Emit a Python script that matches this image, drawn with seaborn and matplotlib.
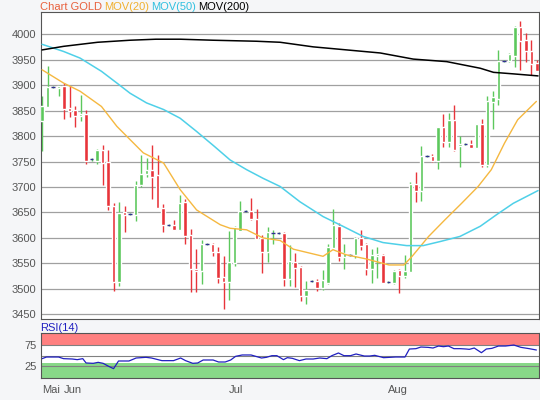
import numpy as np
import matplotlib
matplotlib.use("Agg")
import matplotlib.pyplot as plt
import seaborn as sns

# daily candles
opens = [3829, 3857, 3896, 3895, 3899, 3855, 3852, 3840, 3844, 3754,
         3751, 3773, 3749, 3663, 3513, 3650, 3647, 3646, 3703, 3725,
         3734, 3723, 3659, 3625, 3626, 3615, 3670, 3606, 3540, 3536,
         3588, 3588, 3572, 3523, 3514, 3551, 3614, 3653, 3653, 3638,
         3600, 3572, 3610, 3610, 3610, 3519, 3552, 3544, 3487, 3515,
         3516, 3501, 3511, 3580, 3624, 3562, 3567, 3567, 3600, 3588,
         3539, 3565, 3567, 3513, 3511, 3538, 3526, 3534, 3706, 3693,
         3760, 3760, 3751, 3817, 3789, 3832, 3781, 3785, 3785, 3776,
         3824, 3744, 3866, 3873, 3948, 3948, 3958, 4013, 3989, 3967, 3943]
closes = [3859, 3897, 3896, 3899, 3854, 3850, 3840, 3844, 3751, 3754,
          3773, 3748, 3662, 3513, 3649, 3646, 3647, 3703, 3726, 3734,
          3719, 3659, 3625, 3625, 3615, 3668, 3604, 3539, 3536, 3588,
          3588, 3572, 3521, 3514, 3552, 3621, 3653, 3653, 3637, 3598,
          3572, 3611, 3610, 3610, 3519, 3554, 3541, 3487, 3498, 3515,
          3501, 3518, 3583, 3626, 3562, 3570, 3567, 3600, 3585, 3539,
          3567, 3569, 3511, 3513, 3536, 3526, 3536, 3706, 3693, 3760,
          3760, 3751, 3817, 3789, 3832, 3772, 3785, 3785, 3776, 3823,
          3744, 3868, 3876, 3948, 3948, 3961, 4013, 3987, 3966, 3941, 3928]
highs = [3878, 3937, 3898, 3900, 3904, 3899, 3859, 3881, 3852, 3756,
         3774, 3782, 3773, 3668, 3670, 3663, 3649, 3711, 3763, 3757,
         3783, 3763, 3667, 3627, 3636, 3685, 3676, 3617, 3578, 3596,
         3590, 3590, 3582, 3564, 3614, 3623, 3672, 3655, 3678, 3657,
         3606, 3621, 3616, 3612, 3611, 3587, 3570, 3545, 3515, 3517,
         3519, 3538, 3589, 3656, 3629, 3589, 3569, 3602, 3615, 3590,
         3578, 3583, 3568, 3515, 3538, 3539, 3567, 3709, 3729, 3780,
         3762, 3765, 3817, 3844, 3845, 3861, 3800, 3787, 3793, 3823,
         3833, 3879, 3889, 3968, 3950, 3963, 4015, 4025, 4003, 3989, 3950]
lows = [3770, 3857, 3894, 3879, 3833, 3838, 3817, 3829, 3746, 3752,
        3746, 3704, 3654, 3495, 3505, 3611, 3645, 3634, 3700, 3719,
        3676, 3659, 3612, 3623, 3615, 3615, 3588, 3493, 3493, 3510,
        3586, 3564, 3511, 3460, 3479, 3545, 3614, 3651, 3636, 3597,
        3532, 3552, 3588, 3608, 3505, 3505, 3504, 3476, 3471, 3513,
        3495, 3498, 3510, 3580, 3555, 3539, 3565, 3560, 3577, 3528,
        3511, 3521, 3511, 3511, 3510, 3492, 3521, 3534, 3670, 3673,
        3758, 3750, 3735, 3779, 3779, 3770, 3739, 3783, 3776, 3776,
        3740, 3740, 3814, 3860, 3946, 3946, 3935, 3930, 3946, 3920, 3927]

# moving averages sampled along the chart (day index, value)
ma20_idx = [0, 3.9, 6.9, 10.8, 13.6, 16, 18.4, 22.1, 25.1, 28.1, 32.4, 34.2, 37.2, 40.2, 43.3,
            45.7, 51.1, 52.9, 55.3, 58.9, 63.1, 65.8, 67.3, 70.3, 73.3, 76.3, 79.3, 81.7, 84.1, 86.5, 89.9]
ma20_val = [3930, 3904, 3888, 3858, 3819, 3793, 3767, 3747, 3695, 3655, 3626, 3619, 3616, 3600, 3595,
            3578, 3564, 3577, 3567, 3559, 3547, 3547, 3564, 3603, 3636, 3668, 3701, 3734, 3786, 3832, 3868]
ma50_idx = [0, 3.9, 6.9, 10.8, 13.6, 16, 19, 22.1, 25.1, 28.1, 31.3, 34.2, 37.2, 40.2, 43.3,
            46.9, 51.1, 54.7, 58.4, 62, 66.3, 69.3, 72.4, 76, 79.7, 82.7, 85.7, 90.2]
ma50_val = [3980, 3966, 3953, 3927, 3904, 3884, 3865, 3852, 3835, 3809, 3780, 3753, 3734, 3717, 3701,
            3671, 3642, 3623, 3603, 3591, 3585, 3585, 3593, 3603, 3623, 3646, 3668, 3693]
ma200_idx = [0, 3.9, 10.1, 16, 20.7, 25.1, 31.1, 39, 43.3, 49.3, 55.4, 61.5, 67.5, 73.6, 79.7, 82.1, 85.7, 90.2]
ma200_val = [3969, 3976, 3984, 3988, 3990, 3990, 3988, 3986, 3984, 3975, 3969, 3963, 3951, 3946, 3933,
             3925, 3922, 3918]

rsi_idx = [0, 0.8, 3, 3.9, 5.5, 6.4, 7.4, 8, 9.3, 10.2, 11.1, 12.1, 13, 13.9, 15.8, 17.1, 18.9, 19.9,
           21.8, 23.9, 25.2, 26.1, 27.4, 28.3, 29.3, 31.1, 32.1, 33.3, 34.3, 35.2, 36.4, 38, 39.9, 40.8,
           41.8, 42.7, 43.9, 44.6, 45.5, 46.8, 48, 49.3, 50.5, 51.8, 52.7, 53.9, 54.9, 56.1, 57.1, 58.6,
           59.6, 60.5, 62.1, 63.3, 64.3, 66, 66.8, 68, 68.9, 70.2, 71.1, 72.1, 73, 73.9, 74.9, 76.1,
           77.1, 77.7, 78.6, 79.9, 80.8, 81.8, 83, 84.3, 85.8, 87.1, 88.6, 89.9]
rsi_val = [42.7, 46.5, 46.5, 42.7, 41.9, 40.4, 42.7, 32.7, 31.9, 34.2, 31.9, 25, 19.6, 37.3, 37.3, 44.2,
           45.8, 44.2, 38.1, 38.1, 44.2, 38.1, 31.9, 32.7, 39.6, 39.6, 35, 35, 39.6, 48.1, 51.2, 51.2,
           44.2, 45.8, 49.6, 49.6, 40.4, 45, 43.5, 38.1, 41.9, 41.9, 44.2, 42.7, 49.6, 55.8, 49.6, 49.6,
           53.5, 48.8, 48.8, 50.4, 45, 45.8, 46.5, 46.5, 65, 65.8, 69.6, 68.8, 67.3, 71.9, 70.4, 71.9,
           65.8, 65.8, 65, 64.2, 67.3, 56.5, 65, 66.5, 71.9, 71.9, 74.2, 68.8, 65.8, 62.7]

month_pos = [0, 4, 34, 63]
month_labels = ["Mai", "Jun", "Jul", "Aug"]

sns.set_style("white")
plt.rcParams['font.family'] = ['Liberation Sans', 'DejaVu Sans']

fig = plt.figure(figsize=(5.4, 4), dpi=100, facecolor="#f5f6f8")
ax = fig.add_axes([0.0754, 0.2025, 0.923, 0.767])
rax = fig.add_axes([0.0754, 0.055, 0.923, 0.1125])

GREEN = "#5cc85c"
RED = "#e8343a"
x = np.arange(len(opens))
o = np.array(opens)
c = np.array(closes)

for yv in range(3450, 4050, 50):
    ax.axhline(yv, color="#a0a0a0", lw=0.9, zorder=0)

ax.vlines(x, lows, highs, color=[GREEN if cc >= oo else RED for oo, cc in zip(o, c)], lw=1, zorder=2)
body = np.abs(c - o)
flat = body < 1
cols = [GREEN if cc > oo else RED for oo, cc in zip(o, c)]
ax.bar(x[~flat], body[~flat], bottom=np.minimum(o, c)[~flat], width=0.6,
       color=np.array(cols)[~flat], zorder=3)
ax.hlines(c[flat], x[flat] - 0.35, x[flat] + 0.35, color="#303090", lw=1, zorder=3)

sns.lineplot(x=ma20_idx, y=ma20_val, ax=ax, color="#f5b840", lw=1, sort=False, zorder=4)
sns.lineplot(x=ma50_idx, y=ma50_val, ax=ax, color="#4fd0e8", lw=1.1, sort=False, zorder=4)
sns.lineplot(x=ma200_idx, y=ma200_val, ax=ax, color="black", lw=1.1, sort=False, zorder=4)

ax.set_xlim(-0.25, 90.4)
ax.set_ylim(3441, 4043)
ax.set_yticks(range(3450, 4050, 50))
ax.tick_params(axis="y", labelsize=8, labelcolor="#555555", length=0, pad=3)
ax.set_xticks([])
for s in ax.spines.values():
    s.set_color("#555555")
    s.set_linewidth(0.8)

# title line, each piece placed after the previous one
renderer = fig.canvas.get_renderer()
xpos = 0.074
for txt, col in [("Chart GOLD", "#e8603c"), ("MOV(20)", "#f0b030"),
                 ("MOV(50)", "#30c0e0"), ("MOV(200)", "black")]:
    t = fig.text(xpos, 0.995, txt, color=col, fontsize=8, va="top")
    bb = t.get_window_extent(renderer)
    xpos = (bb.x1 + 2) / fig.bbox.width

# RSI panel
rax.axhspan(75, 102, color="#ff8080", lw=0)
rax.axhspan(-2, 32, color="#88d888", lw=0)
for yv in (25, 50, 75):
    rax.axhline(yv, color="#808080", lw=0.8)
sns.lineplot(x=rsi_idx, y=rsi_val, ax=rax, color="#2020c0", lw=0.9, sort=False)
rax.set_xlim(-0.25, 90.4)
rax.set_ylim(-2, 102)
rax.set_yticks([25, 75])
rax.tick_params(axis="y", labelsize=8, labelcolor="#555555", length=0, pad=3)
rax.set_xticks(month_pos)
rax.set_xticklabels(month_labels, ha="left")
rax.tick_params(axis="x", labelsize=8, labelcolor="#555555", length=4, color="#555555", pad=1)
rax.set_xlabel("")
rax.set_ylabel("")
ax.set_xlabel("")
ax.set_ylabel("")
for s in rax.spines.values():
    s.set_color("#555555")
    s.set_linewidth(0.8)
fig.text(0.074, 0.192, "RSI(14)", color="#2020c0", fontsize=8, va="top")

fig.savefig("out.png", dpi=100, facecolor=fig.get_facecolor())
